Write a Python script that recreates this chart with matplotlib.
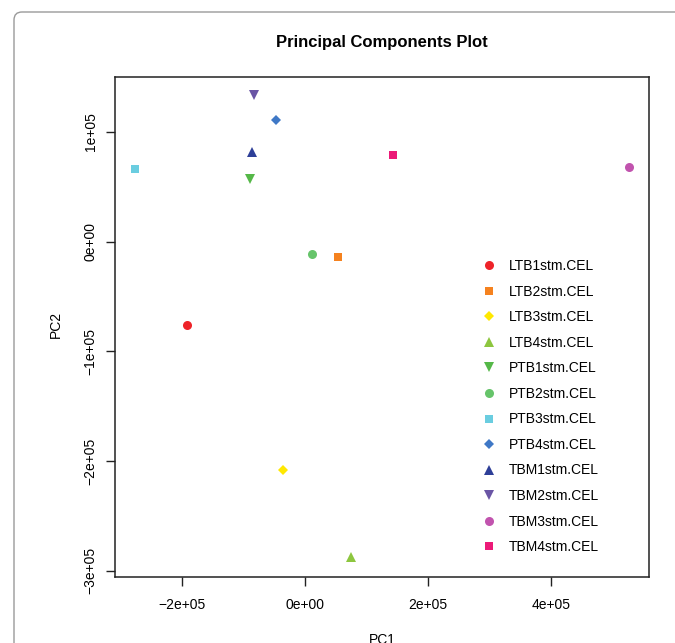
import matplotlib
matplotlib.use("Agg")
import matplotlib.pyplot as plt
from matplotlib.patches import FancyBboxPatch
from matplotlib.ticker import FuncFormatter

plt.rcParams['font.family'] = ['Liberation Sans', 'DejaVu Sans']

samples = ['LTB1stm.CEL', 'LTB2stm.CEL', 'LTB3stm.CEL', 'LTB4stm.CEL',
           'PTB1stm.CEL', 'PTB2stm.CEL', 'PTB3stm.CEL', 'PTB4stm.CEL',
           'TBM1stm.CEL', 'TBM2stm.CEL', 'TBM3stm.CEL', 'TBM4stm.CEL']
pc1 = [-1.92e5, 0.537e5, -0.353e5, 0.753e5,
       -0.889e5, 0.119e5, -2.77e5, -0.476e5,
       -0.857e5, -0.824e5, 5.27e5, 1.431e5]
pc2 = [-0.760e5, -0.141e5, -2.078e5, -2.873e5,
       0.569e5, -0.111e5, 0.658e5, 1.109e5,
       0.812e5, 1.334e5, 0.681e5, 0.785e5]
colors = ['#EE2329', '#F5821F', '#FFE800', '#8DC63F',
          '#55B848', '#66C46A', '#6ACDE0', '#3F78C6',
          '#2E3F98', '#6A55A5', '#C153AE', '#EC1A78']
markers = ['o', 's', 'D', '^', 'v', 'o', 's', 'D', '^', 'v', 'o', 's']
sizes = [6.5, 5.5, 5.5, 7, 7, 6.5, 5.5, 5.5, 7, 7, 6.5, 5.5]

fig = plt.figure(figsize=(6.75, 6.43), dpi=100)
ax = fig.add_axes([0.1704, 0.1019, 0.7911, 0.7783])

for name, x, y, c, m, s in zip(samples, pc1, pc2, colors, markers, sizes):
    ax.plot([x], [y], linestyle='none', marker=m, color=c, markersize=s,
            markeredgewidth=0, label=name)

ax.set_xlim(-3.089e5, 5.593e5)
ax.set_ylim(-3.06e5, 1.498e5)
ax.set_xticks([-2e5, 0, 2e5, 4e5])
ax.set_yticks([-3e5, -2e5, -1e5, 0, 1e5])


def r_sci(v, pos):
    s = '%.0e' % v
    if s.startswith('-0'):
        s = s[1:]
    return s.replace('-', '\u2212', 1) if s.startswith('-') else s


ax.xaxis.set_major_formatter(FuncFormatter(r_sci))
ax.yaxis.set_major_formatter(FuncFormatter(r_sci))
ax.tick_params(axis='both', direction='out', length=6.5, width=1,
               labelsize=10, color='#222222')
ax.tick_params(axis='x', pad=8)
ax.tick_params(axis='y', pad=6)
for lab in ax.get_yticklabels():
    lab.set_rotation(90)
    lab.set_va('center')
for sp in ax.spines.values():
    sp.set_linewidth(1.1)
    sp.set_color('#222222')

ax.set_title('Principal Components Plot', fontsize=12, fontweight='bold', pad=21.5)
ax.set_xlabel('PC1', fontsize=10)
ax.set_ylabel('PC2', fontsize=10)
ax.xaxis.set_label_coords(0.5, -0.11)
ax.yaxis.set_label_coords(-0.097, 0.505)

ax.legend(loc='upper left', bbox_to_anchor=(0.68, 0.647), frameon=False,
          fontsize=10, handlelength=0.8, handletextpad=1.03,
          labelspacing=0.83, borderaxespad=0, numpoints=1)

frame = FancyBboxPatch((0.14, -1.0), 7.0, 7.31,
                       boxstyle='round,pad=0,rounding_size=0.08',
                       transform=fig.dpi_scale_trans, fill=False,
                       edgecolor='#9a9a9a', linewidth=1.0, clip_on=False)
fig.patches.append(frame)

fig.savefig('out.png', dpi=100)
